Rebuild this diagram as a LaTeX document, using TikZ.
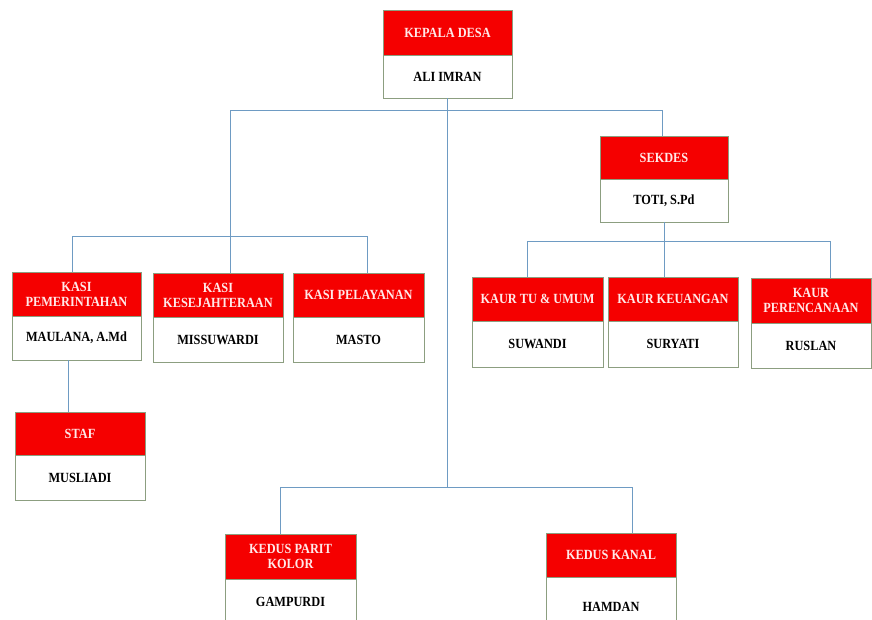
\documentclass[tikz,border=0pt]{standalone}
\usepackage{fontspec}
\setmainfont{Liberation Serif}
\newfontfamily\hdrfont[FakeStretch=0.88]{Liberation Serif}
\newfontfamily\bdyfont[FakeStretch=0.88]{Liberation Serif}
\definecolor{hred}{RGB}{245,0,0}
\definecolor{htext}{RGB}{255,232,232}
\definecolor{bord}{RGB}{140,158,128}
\definecolor{conncol}{RGB}{110,155,195}
\newcommand\obox[8]{%
  \node[hdr, minimum width={(#5-#2)*1pt}, minimum height={(#4-#3)*1pt}] (#1h) at ({(#2+#5)/2},{(#3+#4)/2}) {#7};
  \node[bdy, minimum width={(#5-#2)*1pt}, minimum height={(#6-#4)*1pt}] (#1) at ({(#2+#5)/2},{(#4+#6)/2}) {#8};
}
\begin{document}
\begin{tikzpicture}[x=1pt,y=-1pt,
  hdr/.style={fill=hred, draw=bord, line width=0.8pt, text=htext, inner sep=0pt, outer sep=0pt, align=center,
    font=\hdrfont\bfseries\fontsize{14}{15}\selectfont},
  bdy/.style={fill=white, draw=bord, line width=0.8pt, text=black, inner sep=0pt, outer sep=0pt, align=center,
    font=\bdyfont\bfseries\fontsize{14}{15}\selectfont},
  conn/.style={draw=conncol, line width=0.8pt}]
\useasboundingbox[fill=white] (0,0) rectangle (872,619);

\obox{kd}{383}{10}{55}{512}{98}{KEPALA DESA}{ALI IMRAN}
\obox{sek}{600}{136}{179}{728}{222}{SEKDES}{TOTI, S.Pd}
\obox{kpm}{12}{272}{316}{141}{360}{KASI\\PEMERINTAHAN}{MAULANA, A.Md}
\obox{kke}{153}{273}{317}{283}{362}{KASI\\KESEJAHTERAAN}{MISSUWARDI}
\obox{kpl}{293}{273}{317}{424}{362}{KASI PELAYANAN}{MASTO}
\obox{ktu}{472}{277}{321}{603}{367}{KAUR TU \& UMUM}{SUWANDI}
\obox{kku}{608}{277}{321}{738}{367}{KAUR KEUANGAN}{SURYATI}
\obox{kpr}{751}{278}{323}{871}{368}{KAUR\\PERENCANAAN}{RUSLAN}
\obox{stf}{15}{412}{455}{145}{500}{STAF}{MUSLIADI}
\obox{kpk}{225}{534}{579}{356}{624}{KEDUS PARIT\\KOLOR}{GAMPURDI}
\obox{kkn}{546}{533}{577}{676}{636}{KEDUS KANAL}{HAMDAN}

% coordinates of junctions
\coordinate (t1) at (230,110);
\coordinate (t2) at (662,110);
\coordinate (bb) at (447,487);
\coordinate (b1) at (280,487);
\coordinate (b2) at (632,487);
\coordinate (l1) at (72,236);
\coordinate (l2) at (367,236);
\coordinate (r1) at (527,241);
\coordinate (r2) at (830,241);
\coordinate (s1) at (68,360);

% top level
\draw[conn] (t1) -- (t2);
\draw[conn] (kd.south) -- (kd.south |- bb);
\draw[conn] (b1) -- (b2);
\draw[conn] (b1) -- (b1 |- kpkh.north);
\draw[conn] (b2) -- (b2 |- kknh.north);
% kasi branch
\draw[conn] (t1) -- (t1 |- kkeh.north);
\draw[conn] (l1) -- (l2);
\draw[conn] (l1) -- (l1 |- kpmh.north);
\draw[conn] (l2) -- (l2 |- kplh.north);
% staf
\draw[conn] (s1) -- (s1 |- stfh.north);
% sekdes branch
\draw[conn] (t2) -- (t2 |- sekh.north);
\draw[conn] (sek.south) -- (sek.south |- kkuh.north);
\draw[conn] (r1) -- (r2);
\draw[conn] (r1) -- (r1 |- ktuh.north);
\draw[conn] (r2) -- (r2 |- kprh.north);
\end{tikzpicture}
\end{document}
